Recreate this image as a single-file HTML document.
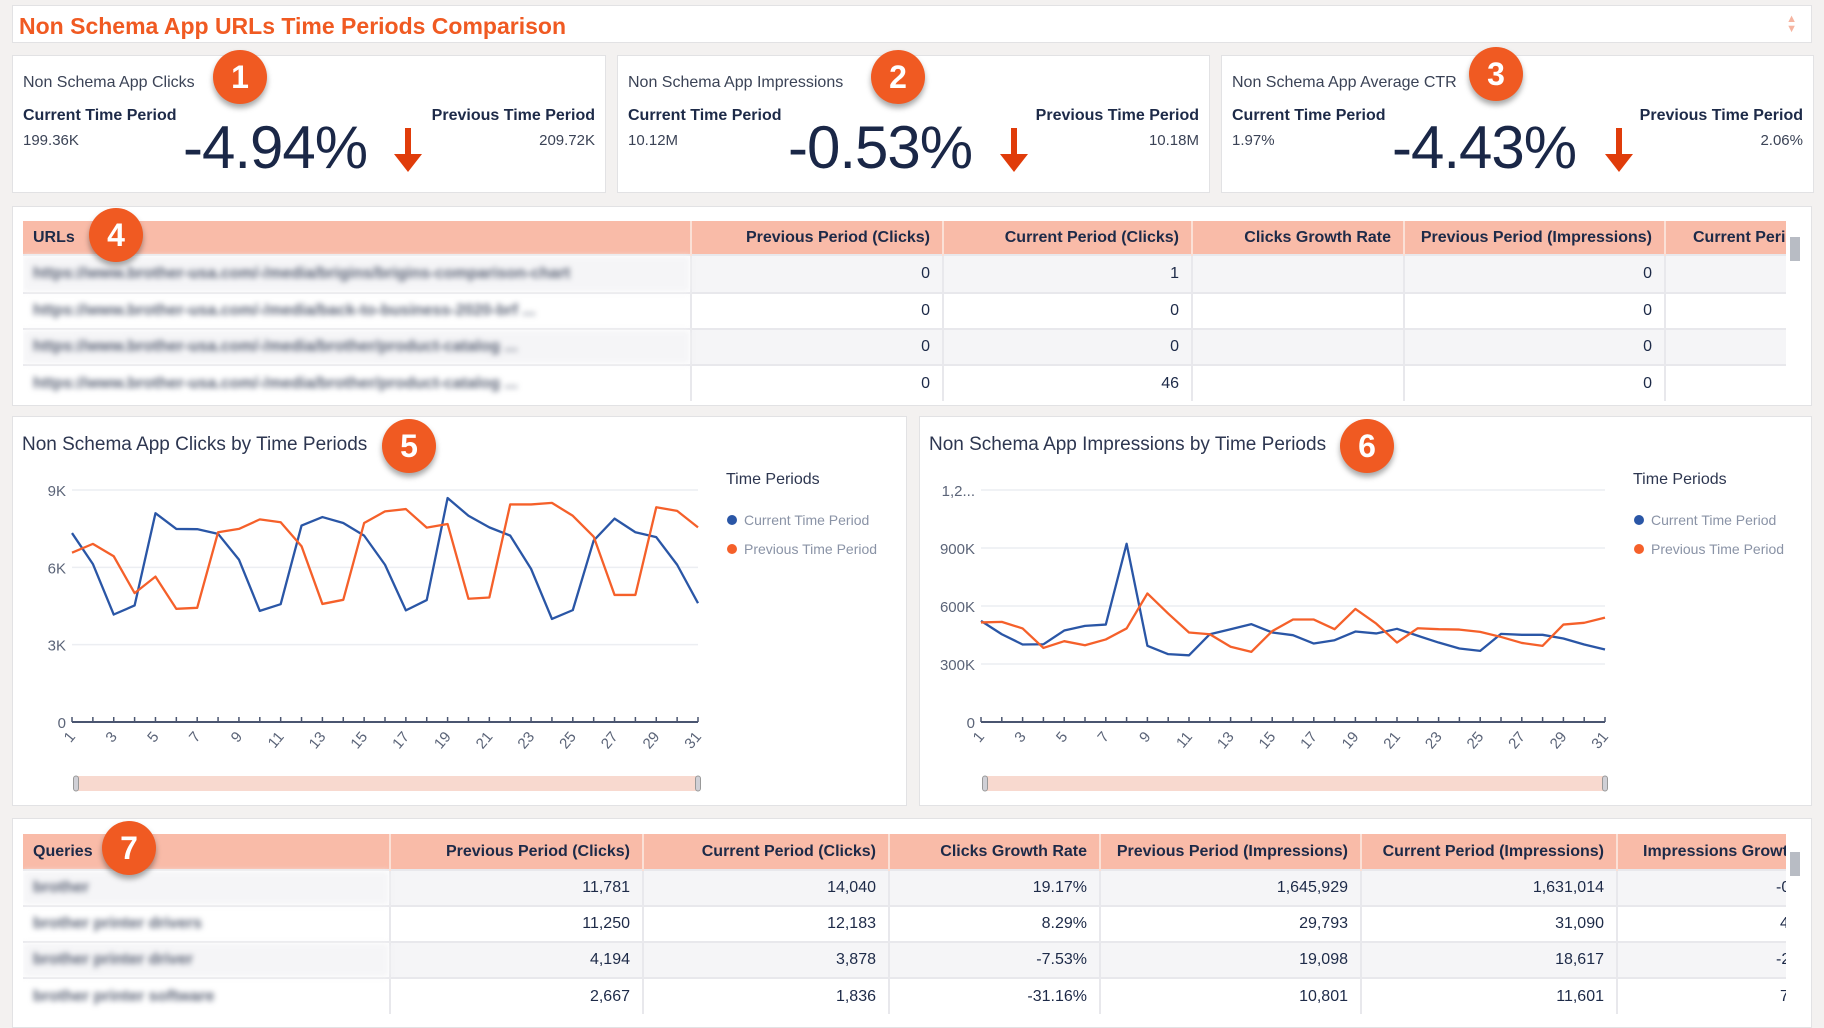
<!DOCTYPE html>
<html><head><meta charset="utf-8">
<style>
*{box-sizing:border-box;margin:0;padding:0}
body{width:1824px;height:1017px;background:#f3f1f0;font-family:"Liberation Sans",sans-serif;color:#1d2a48;position:relative;overflow:hidden}
.panel{position:absolute;background:#fff;border:1px solid #e2e2e4}
.badge{position:absolute;width:54px;height:54px;border-radius:50%;background:#f05a22;color:#fff;font-weight:bold;font-size:32px;text-align:center;line-height:54px;box-shadow:0 4px 6px rgba(0,0,0,.35);z-index:5}
.kt{position:absolute;left:10px;top:18px;font-size:16px;color:#3b4356}
.kl{position:absolute;top:51px;font-size:16px;font-weight:bold}
.kv{position:absolute;top:76px;font-size:15px;color:#3b4356}
.big{position:absolute;top:57px;font-size:60px;color:#1a2747;letter-spacing:-1px}
.arrow{position:absolute;top:72px;width:32px;height:46px}
.tw{position:absolute;overflow:hidden}
table{border-collapse:collapse;table-layout:fixed}
th{background:#f9bba8;font-size:16px;text-align:right;padding-right:12px;border-right:2px solid #fbe0d6;white-space:nowrap;overflow:hidden}
th:first-child{text-align:left;padding-left:10px}
td{font-size:16px;text-align:right;padding-right:12px;border-right:2px solid #e8e8ec;border-top:2px solid #e8e8ec;color:#1d2a48;white-space:nowrap;overflow:hidden}
tr:nth-child(even) td{background:#f5f5f7}
td.blur{text-align:left;padding-left:10px;color:#5a6275;font-weight:bold;filter:blur(3px)}
.sb{position:absolute;width:10px;background:#b8bcc4}
</style></head><body>
<div class="panel" style="left:12px;top:5px;width:1800px;height:38px">
<div style="position:absolute;left:6px;top:7px;font-size:23px;font-weight:bold;color:#f05a22">Non Schema App URLs Time Periods Comparison</div>
<div style="position:absolute;right:14px;top:8px;color:#f6b4a0;font-size:11px;line-height:10px">▲<br>▼</div>
</div>

<div class="panel" style="left:12px;top:55px;width:594px;height:138px">
<div class="kt">Non Schema App Clicks</div>
<div class="kl" style="left:10px">Current Time Period</div>
<div class="kv" style="left:10px">199.36K</div>
<div class="big" style="left:170px">-4.94%</div>
<svg class="arrow" style="left:379px"><rect x="13" y="0" width="6" height="28" fill="#e03c0a"/><polygon points="2,26 30,26 16,44" fill="#e03c0a"/></svg>
<div class="kl" style="right:10px">Previous Time Period</div>
<div class="kv" style="right:10px">209.72K</div>
</div>
<div class="panel" style="left:617px;top:55px;width:593px;height:138px">
<div class="kt">Non Schema App Impressions</div>
<div class="kl" style="left:10px">Current Time Period</div>
<div class="kv" style="left:10px">10.12M</div>
<div class="big" style="left:170px">-0.53%</div>
<svg class="arrow" style="left:380px"><rect x="13" y="0" width="6" height="28" fill="#e03c0a"/><polygon points="2,26 30,26 16,44" fill="#e03c0a"/></svg>
<div class="kl" style="right:10px">Previous Time Period</div>
<div class="kv" style="right:10px">10.18M</div>
</div>
<div class="panel" style="left:1221px;top:55px;width:593px;height:138px">
<div class="kt">Non Schema App Average CTR</div>
<div class="kl" style="left:10px">Current Time Period</div>
<div class="kv" style="left:10px">1.97%</div>
<div class="big" style="left:170px">-4.43%</div>
<svg class="arrow" style="left:381px"><rect x="13" y="0" width="6" height="28" fill="#e03c0a"/><polygon points="2,26 30,26 16,44" fill="#e03c0a"/></svg>
<div class="kl" style="right:10px">Previous Time Period</div>
<div class="kv" style="right:10px">2.06%</div>
</div>

<div class="panel" style="left:12px;top:206px;width:1800px;height:200px"></div>
<div class="tw" style="left:23px;top:221px;width:1763px;height:182px">
<table style="width:2000px">
<colgroup><col style="width:668px"><col style="width:252px"><col style="width:249px"><col style="width:212px"><col style="width:261px"><col style="width:358px"></colgroup>
<tr style="height:34px"><th>URLs</th><th>Previous Period (Clicks)</th><th>Current Period (Clicks)</th><th>Clicks Growth Rate</th><th>Previous Period (Impressions)</th><th style="text-align:left;padding-left:27px">Current Period (Impressions)</th></tr>
<tr style="height:38px"><td class="blur">https://www.brother-usa.com/-/media/brigins/brigins-comparison-chart</td><td>0</td><td>1</td><td></td><td>0</td><td></td></tr>
<tr style="height:36px"><td class="blur">https://www.brother-usa.com/-/media/back-to-business-2020-brf ...</td><td>0</td><td>0</td><td></td><td>0</td><td></td></tr>
<tr style="height:36px"><td class="blur">https://www.brother-usa.com/-/media/brother/product-catalog ...</td><td>0</td><td>0</td><td></td><td>0</td><td></td></tr>
<tr style="height:36px"><td class="blur">https://www.brother-usa.com/-/media/brother/product-catalog ...</td><td>0</td><td>46</td><td></td><td>0</td><td></td></tr>
</table></div>
<div class="sb" style="left:1790px;top:237px;height:24px"></div>

<div class="panel" style="left:12px;top:416px;width:895px;height:390px"></div>
<div class="panel" style="left:919px;top:416px;width:893px;height:390px"></div>
<svg id="charts" width="1824" height="1017" style="position:absolute;left:0;top:0;z-index:2;font-family:'Liberation Sans',sans-serif"></svg>

<div class="panel" style="left:12px;top:818px;width:1800px;height:210px"></div>
<div class="tw" style="left:23px;top:834px;width:1763px;height:183px">
<table style="width:2000px">
<colgroup><col style="width:367px"><col style="width:253px"><col style="width:246px"><col style="width:211px"><col style="width:261px"><col style="width:256px"><col style="width:406px"></colgroup>
<tr style="height:36px"><th>Queries</th><th>Previous Period (Clicks)</th><th>Current Period (Clicks)</th><th>Clicks Growth Rate</th><th>Previous Period (Impressions)</th><th>Current Period (Impressions)</th><th style="text-align:left;padding-left:25px">Impressions Growth Rate</th></tr>
<tr style="height:36px"><td class="blur">brother</td><td>11,781</td><td>14,040</td><td>19.17%</td><td>1,645,929</td><td>1,631,014</td><td style="text-align:left;padding-left:158px">-0.91%</td></tr>
<tr style="height:36px"><td class="blur">brother printer drivers</td><td>11,250</td><td>12,183</td><td>8.29%</td><td>29,793</td><td>31,090</td><td style="text-align:left;padding-left:162px">4.35%</td></tr>
<tr style="height:36px"><td class="blur">brother printer driver</td><td>4,194</td><td>3,878</td><td>-7.53%</td><td>19,098</td><td>18,617</td><td style="text-align:left;padding-left:158px">-2.52%</td></tr>
<tr style="height:36px"><td class="blur">brother printer software</td><td>2,667</td><td>1,836</td><td>-31.16%</td><td>10,801</td><td>11,601</td><td style="text-align:left;padding-left:162px">7.41%</td></tr>
</table></div>
<div class="sb" style="left:1790px;top:852px;height:24px"></div>

<div class="badge" style="left:213px;top:50px">1</div>
<div class="badge" style="left:871px;top:50px">2</div>
<div class="badge" style="left:1469px;top:47px">3</div>
<div class="badge" style="left:89px;top:208px">4</div>
<div class="badge" style="left:382px;top:419px">5</div>
<div class="badge" style="left:1340px;top:419px">6</div>
<div class="badge" style="left:102px;top:821px">7</div>

<script>
const days = Array.from({length:31},(_,i)=>i+1);
const clicksCurrent = [7330,6130,4170,4520,8100,7490,7480,7300,6300,4310,4570,7620,7950,7720,7230,6100,4330,4730,8690,8000,7550,7230,5940,4000,4340,7040,7890,7360,7170,6100,4610];
const clicksPrevious = [6570,6910,6430,5000,5640,4390,4430,7360,7490,7860,7750,6820,4580,4740,7720,8170,8260,7540,7680,4780,4830,8440,8440,8500,8000,7190,4930,4930,8330,8190,7550];
const clicksTicks = [0,3000,6000,9000];
const clicksTickLabels = ["0","3K","6K","9K"];
const imprCurrent = [523,454,401,402,473,497,504,922,394,351,345,454,480,506,463,449,406,423,468,458,482,446,411,380,368,456,451,451,432,401,375].map(v=>v*1000);
const imprPrevious = [515,518,484,383,418,397,427,484,665,561,463,454,389,363,470,530,530,480,585,509,411,485,480,478,466,440,409,394,504,513,540].map(v=>v*1000);
const imprTicks = [0,300000,600000,900000,1200000];
const imprTickLabels = ["0","300K","600K","900K","1,2..."];
const seriesNames = ["Current Time Period","Previous Time Period"];

const NS="http://www.w3.org/2000/svg";
const svg=document.getElementById('charts');
function mk(tag,attrs,parent){const e=document.createElementNS(NS,tag);for(const k in attrs)e.setAttribute(k,attrs[k]);(parent||svg).appendChild(e);return e;}

function chart(cfg){
  const g=mk('g',{});
  
  
  const xs=d=>cfg.x0+(d-1)/30*(cfg.x1-cfg.x0);
  const ys=v=>cfg.y0-v/cfg.max*(cfg.y0-cfg.yTop);
  const t=mk('text',{x:cfg.tx,y:450,'font-size':19,fill:'#2d3650'},g);t.textContent=cfg.title;
  
  
  cfg.ticks.forEach((v,i)=>{
    if(v>0){const l=mk('line',{x1:cfg.x0,x2:cfg.x1,y1:ys(v),y2:ys(v),stroke:'#eceef2','stroke-width':1.5},g);
      
      }
    const tl=mk('text',{x:cfg.x0-6,y:ys(v)+6,'text-anchor':'end','font-size':15,fill:'#5b6478'},g);tl.textContent=cfg.tickLabels[i];
    
    
  });
  const ax=mk('line',{x1:cfg.x0,x2:cfg.x1,y1:cfg.y0,y2:cfg.y0,stroke:'#4a5570','stroke-width':2},g);
  
  
  days.forEach(d=>{
    const tk=mk('line',{x1:xs(d),x2:xs(d),y1:cfg.y0-5,y2:cfg.y0,stroke:'#4a5570','stroke-width':1.5},g);
    
    
    if(d%2===1){const x=xs(d),y=cfg.y0+9;
      const tl=mk('text',{x:x+4,y:y+6,'text-anchor':'end','font-size':15,fill:'#5b6478',transform:`rotate(-50 ${x+4} ${y+6})`},g);tl.textContent=d;
      
      }
  });
  [[cfg.cur,'#2a56a6'],[cfg.prev,'#f5602a']].forEach((s,si)=>{
    const p=mk('polyline',{points:s[0].map((v,i)=>xs(days[i])+','+ys(v)).join(' '),fill:'none',stroke:s[1],'stroke-width':2.3,'stroke-linejoin':'round'},g);
    
    
  });
  const lt=mk('text',{x:cfg.lx,y:484,'font-size':16,fill:'#2d3650'},g);lt.textContent='Time Periods';
  
  
  ['#2a56a6','#f5602a'].forEach((c,i)=>{
    const y=520+i*29;
    const dot=mk('circle',{cx:cfg.lx+6,cy:y,r:5,fill:c},g);
    
    
    const lx=mk('text',{x:cfg.lx+18,y:y+5,'font-size':14,fill:'#8a93a6'},g);lx.textContent=seriesNames[i];
    
    
  });
  const sl=mk('rect',{x:cfg.x0+4,y:776,width:cfg.x1-cfg.x0-4,height:15,fill:'#f8d9cf'},g);
  
  
  [cfg.x0+4,cfg.x1].forEach(x=>{const h=mk('rect',{x:x-2.5,y:776,width:5,height:15,rx:2.5,fill:'#d0d0d6',stroke:'#999','stroke-width':1},g);
    
    });
}
chart({name:'clicks-chart',title:'Non Schema App Clicks by Time Periods',tx:22,x0:72,x1:698,y0:722,yTop:490,max:9000,ticks:clicksTicks,tickLabels:clicksTickLabels,cur:clicksCurrent,prev:clicksPrevious,lx:726});
chart({name:'impressions-chart',title:'Non Schema App Impressions by Time Periods',tx:929,x0:981,x1:1605,y0:722,yTop:490,max:1200000,ticks:imprTicks,tickLabels:imprTickLabels,cur:imprCurrent,prev:imprPrevious,lx:1633});
</script>
</body></html>
